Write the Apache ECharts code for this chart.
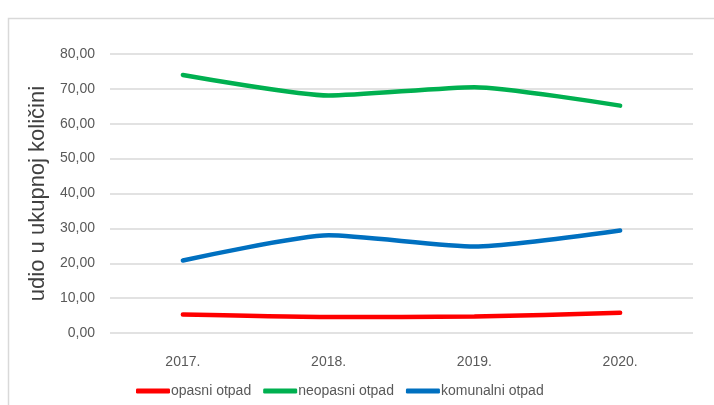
<!DOCTYPE html>
<html>
<head>
<meta charset="utf-8">
<script src="https://cdn.jsdelivr.net/npm/echarts@6/dist/echarts.min.js"></script>
<style>
  html, body { margin: 0; padding: 0; background: #fff; }
  #chart { width: 714px; height: 405px; }
</style>
</head>
<body>
<div id="chart"></div>
<script>
const years = ['2017.', '2018.', '2019.', '2020.']
const opasni = [5.3, 4.6, 4.7, 5.8]
const neopasni = [74.0, 68.1, 70.5, 65.2]
const komunalni = [20.8, 28.0, 24.8, 29.4]

const font = "'Liberation Sans', sans-serif"
const textColor = '#595959'

const chart = echarts.init(document.getElementById('chart'), null, { renderer: 'canvas' })

const mkLine = (name, data, color) => ({
  name, type: 'line', data,
  smooth: 0.2,
  symbol: 'none',
  lineStyle: { color, width: 4.5, cap: 'round' },
  itemStyle: { color }
})

chart.setOption({
  animation: false,
  graphic: [{
    type: 'rect',
    shape: { x: 8.5, y: 18.5, width: 720, height: 400 },
    style: { fill: 'none', stroke: '#d9d9d9', lineWidth: 1.5 }
  }],
  grid: { left: 110, right: 21, top: 54, bottom: 72 },
  legend: {
    bottom: 2,
    left: 131,
    itemWidth: 34,
    itemHeight: 5,
    itemGap: 12,
    icon: 'roundRect',
    textStyle: { color: textColor, fontSize: 14, fontFamily: font, padding: [0, 0, 0, -4] },
    data: ['opasni otpad', 'neopasni otpad', 'komunalni otpad']
  },
  xAxis: {
    type: 'category',
    data: years,
    axisLine: { show: false },
    axisTick: { show: false },
    axisLabel: { color: textColor, fontSize: 14, fontFamily: font, margin: 22 }
  },
  yAxis: {
    type: 'value',
    min: 0, max: 80, interval: 10,
    name: 'udio u ukupnoj količini',
    nameLocation: 'middle',
    nameGap: 44,
    nameTextStyle: { color: '#404040', fontSize: 22, fontFamily: font },
    axisLine: { show: false },
    axisTick: { show: false },
    splitLine: { lineStyle: { color: '#d9d9d9', width: 1.5 } },
    axisLabel: {
      color: textColor, fontSize: 14, fontFamily: font, margin: 15,
      formatter: v => v.toFixed(2).replace('.', ',')
    }
  },
  series: [
    mkLine('opasni otpad', opasni, '#ff0000'),
    mkLine('neopasni otpad', neopasni, '#00b050'),
    mkLine('komunalni otpad', komunalni, '#0070c0')
  ]
})
</script>
</body>
</html>
